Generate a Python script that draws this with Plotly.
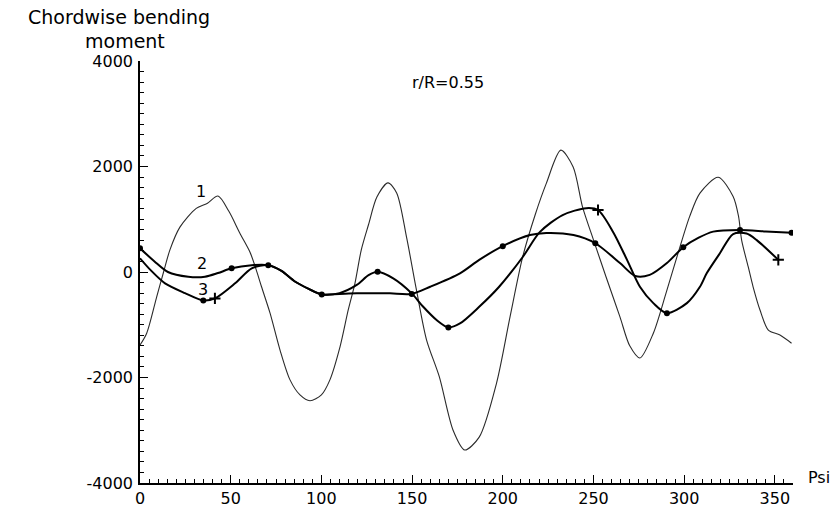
import plotly.graph_objects as go

# ---- data ----
psi_1 = [0, 3.7, 9.2, 13, 16.5, 22, 31, 37, 43, 49, 55, 60.6, 64, 67, 71.7, 77.2, 82.7, 88.2,
         93.7, 100, 104.7, 110.3, 114.8, 118.5, 122, 126, 130.6, 136.7, 141.5, 147, 152.4, 158,
         165, 172.6, 179, 187, 196.6, 204, 211, 218, 224, 232, 238.8, 244, 250, 257, 264.6,
         270, 275.6, 283, 290, 297, 303, 308.7, 318.8, 327, 330, 331.7, 335.3, 338, 341.8,
         346.4, 352.8, 359.2]
m_1 = [-1385, -1160, -470, 0, 420, 850, 1207, 1300, 1440, 1150, 740, 380, 50, -280, -780,
       -1480, -2045, -2330, -2440, -2330, -2045, -1415, -720, -215, 420, 900, 1420, 1690, 1500,
       650, -340, -1290, -1985, -3000, -3375, -3130, -2100, -850, 290, 1100, 1680, 2310, 1990,
       1230, 610, -100, -850, -1400, -1630, -1160, -400, 400, 1050, 1495, 1795, 1430, 1050,
       600, 100, -280, -720, -1100, -1195, -1350]

psi_2 = [0, 8, 15.4, 26.6, 35.8, 43, 50.5, 61.6, 70.7, 78, 85.4, 93, 100.2, 110, 119.5, 128,
         137.8, 149.8, 160, 176.4, 187, 200, 215, 224, 239, 251, 264.6, 273, 281, 290.5, 299.5,
         308, 316, 330.8, 345, 359.2]
m_2 = [450, 200, 0, -90, -90, -20, 70, 130, 130, 20, -180, -320, -425, -415, -405, -405,
       -405, -415, -280, -25, 230, 490, 700, 740, 700, 545, 170, -75, -55, 170, 470, 650, 765,
       795, 770, 745]
dots_psi_2 = [0, 50.5, 70.7, 100.2, 149.8, 200, 251, 299.5, 330.8, 359.2]
dots_m_2 = [450, 70, 130, -425, -415, 490, 545, 470, 795, 745]

psi_3 = [0, 6, 13.8, 24.8, 34.9, 41.3, 52.4, 61.6, 70.7, 78, 85.4, 93, 100.2, 110, 119.5,
         126, 131, 139.6, 149.8, 156, 163.5, 170, 176.4, 187, 198, 211, 220.5, 233, 246,
         252.5, 260.8, 268.5, 275.6, 283, 290.5, 301.5, 308.7, 312.5, 319.7, 327, 334.4, 340,
         351.9]
m_3 = [260, 30, -215, -400, -540, -500, -215, 70, 130, 20, -180, -320, -425, -400, -245,
       -60, 5, -120, -405, -655, -910, -1050, -975, -660, -280, 285, 760, 1080, 1210, 1175,
       760, 230, -280, -590, -780, -590, -280, -20, 355, 720, 730, 605, 230]
dots_psi_3 = [34.9, 131, 170, 290.5]
dots_m_3 = [-540, 5, -1050, -780]
plus_psi_3 = [41.3, 252.5, 351.9]
plus_m_3 = [-500, 1175, 230]

x_ticks = [0, 50, 100, 150, 200, 250, 300, 350]
x_tick_labels = ["0", "50", "100", "150", "200", "250", "300", "350"]
y_ticks = [-4000, -2000, 0, 2000, 4000]
y_tick_labels = ["-4000", "-2000", "0", "2000", "4000"]

FONT = "DejaVu Sans"

fig = go.Figure()
fig.add_trace(go.Scatter(x=psi_1, y=m_1, mode="lines",
                         line=dict(color="#2a2a2a", width=1.1, shape="spline", smoothing=0.8),
                         showlegend=False, hoverinfo="skip"))
fig.add_trace(go.Scatter(x=psi_2, y=m_2, mode="lines",
                         line=dict(color="black", width=2, shape="spline", smoothing=0.8),
                         showlegend=False, hoverinfo="skip"))
fig.add_trace(go.Scatter(x=psi_3, y=m_3, mode="lines",
                         line=dict(color="black", width=2, shape="spline", smoothing=0.8),
                         showlegend=False, hoverinfo="skip"))
fig.add_trace(go.Scatter(x=dots_psi_2, y=dots_m_2, mode="markers",
                         marker=dict(color="black", size=6, symbol="circle"),
                         showlegend=False, hoverinfo="skip"))
fig.add_trace(go.Scatter(x=dots_psi_3, y=dots_m_3, mode="markers",
                         marker=dict(color="black", size=6, symbol="circle"),
                         showlegend=False, hoverinfo="skip"))
fig.add_trace(go.Scatter(x=plus_psi_3, y=plus_m_3, mode="markers",
                         marker=dict(color="black", size=8, symbol="cross-thin",
                                     line=dict(color="black", width=2)),
                         showlegend=False, hoverinfo="skip"))

W, H = 839, 509
L, R, T, B = 140, 46, 61, 26
pw, ph = W - L - R, H - T - B


def px(xp):
    return (xp - L) / pw


def py(yp):
    return (H - B - yp) / ph


annotations = [
    dict(text="Chordwise bending", x=px(119), y=py(17), xref="paper", yref="paper",
         xanchor="center", yanchor="middle", showarrow=False,
         font=dict(family=FONT, size=19, color="black")),
    dict(text="moment", x=px(125), y=py(41), xref="paper", yref="paper",
         xanchor="center", yanchor="middle", showarrow=False,
         font=dict(family=FONT, size=19, color="black")),
    dict(text="r/R=0.55", x=px(448), y=py(82), xref="paper", yref="paper",
         xanchor="center", yanchor="middle", showarrow=False,
         font=dict(family=FONT, size=16, color="black")),
    dict(text="Psi", x=px(806), y=py(477), xref="paper", yref="paper",
         xanchor="left", yanchor="middle", showarrow=False,
         font=dict(family=FONT, size=16, color="black")),
    dict(text="1", x=33.6, y=1535, xref="x", yref="y", showarrow=False,
         font=dict(family=FONT, size=16, color="black")),
    dict(text="2", x=34, y=170, xref="x", yref="y", showarrow=False,
         font=dict(family=FONT, size=16, color="black")),
    dict(text="3", x=35, y=-340, xref="x", yref="y", showarrow=False,
         font=dict(family=FONT, size=16, color="black")),
]

fig.update_layout(
    width=W, height=H,
    margin=dict(l=L, r=R, t=T, b=B, pad=0, autoexpand=False),
    paper_bgcolor="white", plot_bgcolor="white",
    font=dict(family=FONT, size=16, color="black"),
    annotations=annotations,
    xaxis=dict(range=[0, 360], showline=True, linecolor="black", linewidth=1.5,
               showgrid=False, zeroline=False, ticks="inside", ticklen=8, tickwidth=1.2,
               tickcolor="black", tickvals=x_ticks, ticktext=x_tick_labels,
               automargin=False,
               tickfont=dict(family=FONT, size=16, color="black"),
               minor=dict(dtick=5, tick0=0, ticks="inside", ticklen=4, tickcolor="black",
                          tickwidth=1, showgrid=False)),
    yaxis=dict(range=[-4000, 4000], showline=True, linecolor="black", linewidth=1.5,
               showgrid=False, zeroline=False, ticks="inside", ticklen=8, tickwidth=1.2,
               tickcolor="black", tickvals=y_ticks, ticktext=y_tick_labels,
               ticklabelstandoff=2, automargin=False,
               tickfont=dict(family=FONT, size=16, color="black"),
               minor=dict(dtick=200, tick0=0, ticks="inside", ticklen=4, tickcolor="black",
                          tickwidth=1, showgrid=False)),
)

fig.write_html("out.html")
